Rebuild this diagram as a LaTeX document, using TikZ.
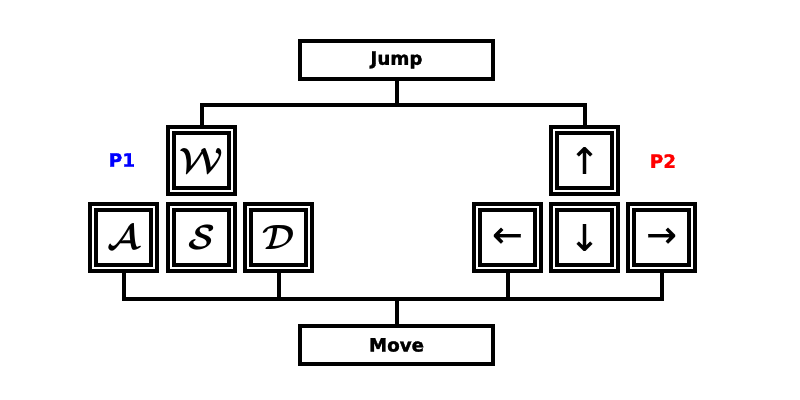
\documentclass[tikz,border=0pt]{standalone}
\usepackage{fontspec}
\usepackage{bm}
\usepackage{xcolor}
\newfontfamily\heavyfont[FakeBold=1.5]{DejaVu Sans Bold}
\newfontfamily\arrowfont[FakeBold=0.6]{DejaVu Sans}
\tikzset{
    labelbox/.style={draw, line width=0.1cm, minimum width=4.825cm, minimum height=0.95cm,
        inner sep=0pt, font=\heavyfont\fontsize{13}{13}\selectfont},
    keybox/.style={draw, line width=0.1cm, double, double distance=0.05cm,
        minimum size=1.525cm, inner sep=0pt, outer sep=0.125cm},
    letter/.style={keybox, font=\fontsize{30}{30}\selectfont},
    arrowkey/.style={keybox, font=\arrowfont\fontsize{26}{26}\selectfont},
    player/.style={font=\heavyfont\fontsize{13}{13}\selectfont}
}

\begin{document}
\begin{tikzpicture}[x=0.025cm, y=-0.025cm, line width=0.1cm]
    \useasboundingbox (0,0) rectangle (800,400);
    % top and bottom boxes
    \node[labelbox] (jump) at (396.5, 60) {Jump};
    \node[labelbox] (move) at (396.5, 345) {Move};
    % player one
    \node[player, text=blue] (p1) at (122, 160) {P1};
    \node[letter] (w) at (201.5, 160.5) {$\bm{\mathcal{W}}$};
    \node[letter] (a) at (123.5, 237.5) {$\bm{\mathcal{A}}$};
    \node[letter] (s) at (201.5, 237.5) {$\bm{\mathcal{S}}$};
    \node[letter] (d) at (278.5, 237.5) {$\bm{\mathcal{D}}$};
    % player two
    \node[player, text=red] (p2) at (663, 161) {P2};
    \node[arrowkey] (up) at (584.5, 160.5) {↑};
    \node[arrowkey] (left) at (507.5, 237.5) {←};
    \node[arrowkey] (down) at (584.5, 237.5) {↓};
    \node[arrowkey] (right) at (661.5, 237.5) {→};
    % connectors
    \coordinate (jt) at (396.5, 105.5);
    \coordinate (mb) at (396.5, 298.5);
    \draw (jump.south) -- (jt);
    \draw (w.north) |- (jt) -| (up.north);
    \draw (a.south) |- (right.south |- mb) -- (right.south);
    \draw (d.south) -- (d.south |- mb);
    \draw (left.south) -- (left.south |- mb);
    \draw (mb) -- (move.north);
\end{tikzpicture}
\end{document}
